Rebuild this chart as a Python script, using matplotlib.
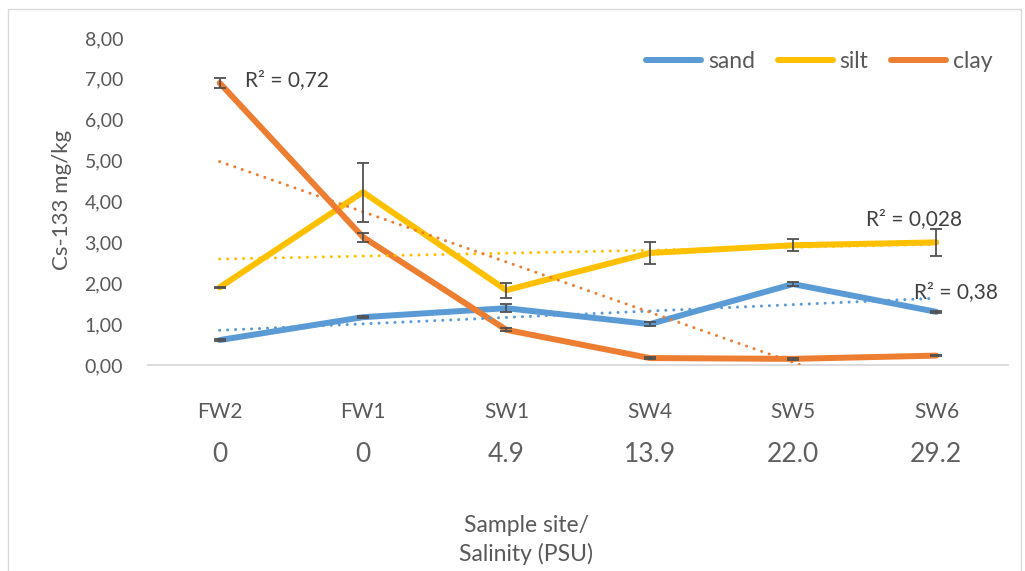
import numpy as np
import matplotlib
matplotlib.use("Agg")
import matplotlib.pyplot as plt
from matplotlib.patches import Rectangle

sites = ["FW2", "FW1", "SW1", "SW4", "SW5", "SW6"]
salinity = ["0", "0", "4.9", "13.9", "22.0", "29.2"]

sand = [0.61, 1.17, 1.39, 1.00, 1.98, 1.30]
silt = [1.90, 4.23, 1.83, 2.74, 2.93, 3.00]
clay = [6.90, 3.13, 0.86, 0.17, 0.15, 0.23]

sand_err = [0.03, 0.03, 0.10, 0.05, 0.04, 0.02]
silt_err = [0.02, 0.72, 0.18, 0.26, 0.15, 0.33]
clay_err = [0.12, 0.11, 0.04, 0.02, 0.02, 0.02]

r2_labels = {"sand": "R² = 0,38", "silt": "R² = 0,028", "clay": "R² = 0,72"}

colors = {"sand": "#5B9BD5", "silt": "#FFC000", "clay": "#ED7D31"}
text_col = "#595959"

plt.rcParams['font.family'] = ['Lato', 'DejaVu Sans']

W, H = 1025, 571
fig = plt.figure(figsize=(W / 100, H / 100), dpi=100)
fig.patches.append(Rectangle((8 / W, -0.05), (1021 - 8) / W, (H - 9) / H + 0.05,
                             transform=fig.transFigure, fill=False,
                             edgecolor="#d9d9d9", lw=1))

ax = fig.add_axes([148 / W, 206 / H, (1008 - 148) / W, 327 / H])
x = np.arange(1, len(sites) + 1)

series = [("sand", sand, sand_err), ("silt", silt, silt_err), ("clay", clay, clay_err)]
for name, vals, err in series:
    ax.plot(x, vals, color=colors[name], lw=4.3, solid_capstyle="round",
            solid_joinstyle="round", label=name, zorder=3)
for name, vals, err in series:
    k, b = np.polyfit(x, vals, 1)
    ax.plot(x, k * x + b, color=colors[name], lw=2.2, linestyle=(0, (0.01, 2.6)),
            dash_capstyle="round", zorder=4)
for name, vals, err in series:
    ax.errorbar(x, vals, yerr=err, fmt="none", ecolor="#505050", elinewidth=1.3,
                capsize=4.5, capthick=1.3, zorder=5)

ax.set_xlim(0.5, 6.5)
ax.set_ylim(0, 8)
ax.set_yticks(np.arange(0, 9, 1))
ax.set_yticklabels([f"{v:.2f}".replace(".", ",") for v in range(0, 9)],
                   fontsize=14, color=text_col)
ax.tick_params(axis="y", length=0, pad=18)
ax.set_xticks(x)
ax.set_xticklabels(sites, fontsize=15, color=text_col)
ax.tick_params(axis="x", length=0, pad=27)
for sp in ["top", "right", "left"]:
    ax.spines[sp].set_visible(False)
ax.spines["bottom"].set_color("#d9d9d9")
ax.spines["bottom"].set_linewidth(1.3)

tr = ax.get_xaxis_transform()
for xi, s in zip(x, salinity):
    ax.text(xi, -89 / 327, s, transform=tr, ha="center", va="center",
            fontsize=19, color="#606060")

fig.text(526 / W, 1 - 540 / H, "Sample site/\nSalinity (PSU)", ha="center",
         va="center", fontsize=16.5, color=text_col, linespacing=1.35)
fig.text(62 / W, 1 - 200 / H, "Cs-133 mg/kg", rotation=90, ha="center",
         va="center", fontsize=16, color=text_col)

fig.text(245 / W, 1 - 80 / H, r2_labels["clay"], ha="left", va="center",
         fontsize=15, color="#404040")
fig.text(866 / W, 1 - 219 / H, r2_labels["silt"], ha="left", va="center",
         fontsize=15, color="#404040")
fig.text(914 / W, 1 - 292 / H, r2_labels["sand"], ha="left", va="center",
         fontsize=15, color="#404040")

leg = ax.legend(loc="upper right", bbox_to_anchor=(1002 / W, 1 - 42 / H),
                bbox_transform=fig.transFigure, ncol=3, frameon=False,
                fontsize=16.5, handlelength=2.4, handletextpad=0.3,
                columnspacing=1.0, labelcolor=text_col, borderaxespad=0)
for h in leg.get_lines():
    h.set_solid_capstyle("round")
    h.set_linewidth(4.3)

fig.savefig("out.png", dpi=100)
